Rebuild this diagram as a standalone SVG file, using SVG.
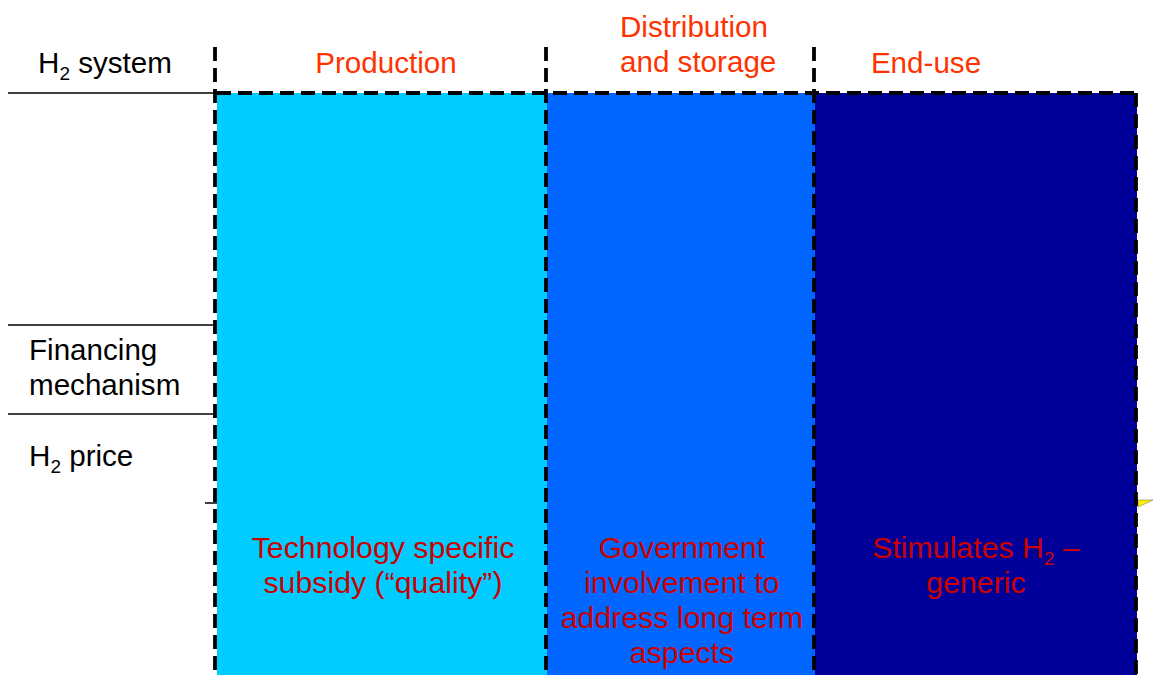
<svg xmlns="http://www.w3.org/2000/svg" width="1153" height="675" viewBox="0 0 1153 675">
<style>
text{font-family:"Liberation Sans",Arial,sans-serif;font-size:29.6px}
.hd{fill:#FF3300;text-anchor:middle}
.hl{fill:#FF3300}
.lb{fill:#000000}
.bd{fill:#CC0000;text-anchor:middle;font-size:30.3px}
.sub{font-size:19px}
.rule{stroke:#000;stroke-width:1.3;fill:none}
.dash{stroke:#000;stroke-width:3.8;fill:none;stroke-dasharray:14 7}
</style>
<rect width="1153" height="675" fill="#ffffff"/>
<g id="hidden-arrow">
<line x1="205" y1="503" x2="1140" y2="503" stroke="#000" stroke-width="1.3"/>
<polygon points="1138,500 1153,500 1138,507" fill="#FFEE00" stroke="#666" stroke-width="0.5"/>
</g>
<g id="production">
<rect x="217" y="93" width="330" height="590" fill="#00CCFF"/>
<text class="bd" x="383" y="558">Technology specific</text>
<text class="bd" x="383" y="593">subsidy (“quality”)</text>
</g>
<g id="distribution">
<rect x="547" y="93" width="268" height="590" fill="#0066FF"/>
<text class="bd" x="682" y="558">Government</text>
<text class="bd" x="682" y="593">involvement to</text>
<text class="bd" x="682" y="628">address long term</text>
<text class="bd" x="682" y="663">aspects</text>
</g>
<g id="enduse">
<rect x="815" y="93" width="322" height="590" fill="#000099"/>
<text class="bd" x="976" y="558">Stimulates H<tspan class="sub" dy="7">2</tspan><tspan dy="-7"> –</tspan></text>
<text class="bd" x="976" y="593">generic</text>
</g>
<g id="connectors">
<line class="rule" x1="8" y1="93" x2="217" y2="93"/>
<line class="rule" x1="8" y1="325" x2="215" y2="325"/>
<line class="rule" x1="8" y1="414" x2="215" y2="414"/>
<line class="dash" x1="215" y1="47" x2="215" y2="675"/>
<line class="dash" x1="546" y1="47" x2="546" y2="675"/>
<line class="dash" x1="814" y1="47" x2="814" y2="675"/>
<line class="dash" x1="217" y1="93" x2="1137" y2="93"/>
<line class="dash" x1="1136" y1="93" x2="1136" y2="675"/>
</g>
<g id="headers">
<text class="lb" x="38" y="73">H<tspan class="sub" dy="7">2</tspan><tspan dy="-7"> system</tspan></text>
<text class="hd" x="386" y="73">Production</text>
<text class="hl" x="620" y="37">Distribution</text>
<text class="hl" x="620" y="72">and storage</text>
<text class="hd" x="926" y="73">End-use</text>
</g>
<g id="rows">
<text class="lb" x="29" y="360">Financing</text>
<text class="lb" x="29" y="395">mechanism</text>
<text class="lb" x="29" y="466">H<tspan class="sub" dy="7">2</tspan><tspan dy="-7"> price</tspan></text>
</g>
</svg>
